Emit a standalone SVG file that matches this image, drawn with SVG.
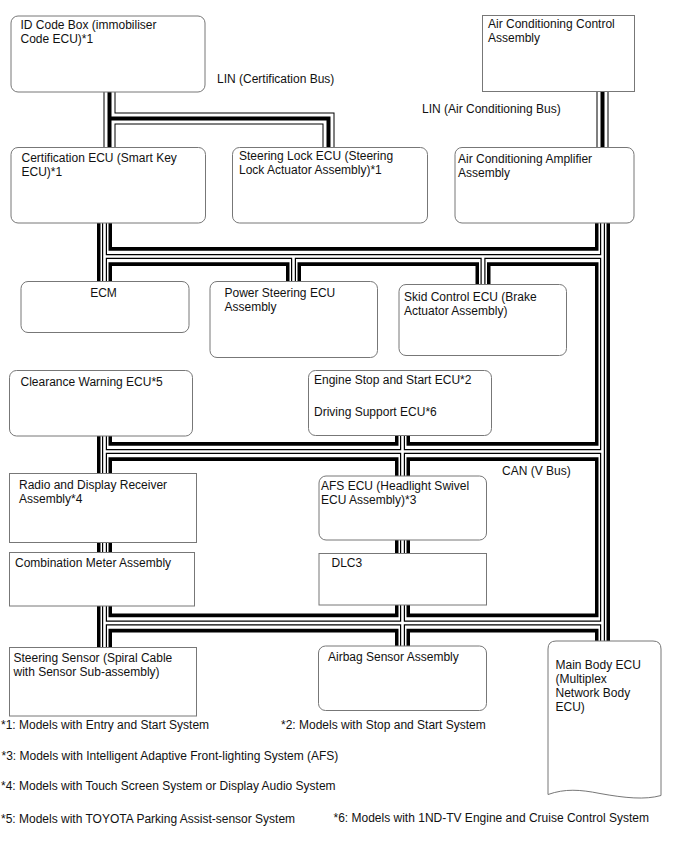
<svg xmlns="http://www.w3.org/2000/svg" xmlns:xlink="http://www.w3.org/1999/xlink" width="688" height="852" viewBox="0 0 688 852">
<style>
  text { font-family: "Liberation Sans", Arial, sans-serif; font-size: 12px; fill: #111; }
  .box { fill: #fff; stroke: #777; stroke-width: 1; }
  .l1 { stroke: #000; stroke-width: 12; }
  .l2 { stroke: #fff; stroke-width: 10; }
  .l3 { stroke: #000; stroke-width: 4; }
  .c1v { stroke: #000; stroke-width: 15; }
  .c1h { stroke: #000; stroke-width: 19; }
  .c2v { stroke: #fff; stroke-width: 8; }
  .c2h { stroke: #fff; stroke-width: 11.5; }
  .c3 { stroke: #000; stroke-width: 5; }
  .c4 { stroke: #fff; stroke-width: 2.6; }
</style>
<defs>
  <path id="lin-cert" d="M109.5,85 V156 M109.5,118.5 H328.5 V156"/>
  <path id="lin-ac" d="M602.5,85 V156"/>
  <path id="can-v" d="M104.5,215 V290 M104.5,430 V655 M602.5,215 V650 M402.5,430 V655 M293.5,256.5 V290 M483,256.5 V292"/>
  <path id="can-h" d="M104.5,256.5 H602.5 M104.5,451.5 H602.5 M104.5,623 H602.5"/>
</defs>
<rect width="688" height="852" fill="#fff"/>
<g id="connectors" fill="none" stroke-linecap="butt" stroke-linejoin="miter">
  <use href="#lin-cert" class="l1"/>
  <use href="#lin-ac" class="l1"/>
  <use href="#lin-cert" class="l2"/>
  <use href="#lin-ac" class="l2"/>
  <use href="#lin-cert" class="l3"/>
  <use href="#lin-ac" class="l3"/>
  <use href="#can-v" class="c1v"/>
  <use href="#can-h" class="c1h"/>
  <use href="#can-v" class="c2v"/>
  <use href="#can-h" class="c2h"/>
  <use href="#can-v" class="c3"/>
  <use href="#can-h" class="c3"/>
  <use href="#can-v" class="c4"/>
  <use href="#can-h" class="c4"/>
</g>
<g id="labels">
  <text x="217" y="83">LIN (Certification Bus)</text>
  <text x="422" y="112.5">LIN (Air Conditioning Bus)</text>
  <text x="502" y="475">CAN (V Bus)</text>
</g>
<g id="id-code-box">
  <rect class="box" x="11" y="16" width="194" height="76" rx="7"/>
  <text x="20.5" y="28.5">ID Code Box (immobiliser</text>
  <text x="20.5" y="42.5">Code ECU)*1</text>
</g>
<g id="ac-control">
  <rect class="box" x="482.5" y="15.5" width="152" height="76"/>
  <text x="488" y="28">Air Conditioning Control</text>
  <text x="488" y="42">Assembly</text>
</g>
<g id="certification-ecu">
  <rect class="box" x="11" y="147.5" width="194.5" height="75.5" rx="7"/>
  <text x="21.5" y="161.5">Certification ECU (Smart Key</text>
  <text x="21.5" y="175.5">ECU)*1</text>
</g>
<g id="steering-lock-ecu">
  <rect class="box" x="232.5" y="147.5" width="195" height="75.5" rx="7"/>
  <text x="239" y="160">Steering Lock ECU (Steering</text>
  <text x="239" y="174">Lock Actuator Assembly)*1</text>
</g>
<g id="ac-amplifier">
  <rect class="box" x="455" y="147.5" width="179" height="75.5" rx="7"/>
  <text x="458" y="163">Air Conditioning Amplifier</text>
  <text x="458" y="177">Assembly</text>
</g>
<g id="ecm">
  <rect class="box" x="21" y="281.5" width="168" height="51" rx="7"/>
  <text x="103.5" y="297" text-anchor="middle">ECM</text>
</g>
<g id="power-steering-ecu">
  <rect class="box" x="210" y="281.5" width="167.5" height="76" rx="7"/>
  <text x="224.5" y="296.5">Power Steering ECU</text>
  <text x="224.5" y="310.5">Assembly</text>
</g>
<g id="skid-control-ecu">
  <rect class="box" x="399" y="284.5" width="167.5" height="71" rx="7"/>
  <text x="404" y="300.5">Skid Control ECU (Brake</text>
  <text x="404" y="314.5">Actuator Assembly)</text>
</g>
<g id="clearance-warning-ecu">
  <rect class="box" x="9.5" y="370.5" width="183" height="65.5" rx="7"/>
  <text x="20.5" y="386">Clearance Warning ECU*5</text>
</g>
<g id="engine-stop-start-ecu">
  <rect class="box" x="308.5" y="370.5" width="183" height="65" rx="7"/>
  <text x="314" y="383.5">Engine Stop and Start ECU*2</text>
  <text x="314" y="416">Driving Support ECU*6</text>
</g>
<g id="radio-display-receiver">
  <rect class="box" x="9.5" y="473.5" width="187" height="69"/>
  <text x="19" y="488.5">Radio and Display Receiver</text>
  <text x="19" y="502.5">Assembly*4</text>
</g>
<g id="afs-ecu">
  <rect class="box" x="319" y="476" width="167.5" height="64" rx="7"/>
  <text x="321" y="489.5">AFS ECU (Headlight Swivel</text>
  <text x="321" y="503.5">ECU Assembly)*3</text>
</g>
<g id="combination-meter">
  <rect class="box" x="9.5" y="552.5" width="185" height="53.5"/>
  <text x="15" y="566.5">Combination Meter Assembly</text>
</g>
<g id="dlc3">
  <rect class="box" x="319" y="553.5" width="167.5" height="51.5"/>
  <text x="331.5" y="566.5">DLC3</text>
</g>
<g id="steering-sensor">
  <rect class="box" x="9.5" y="647.5" width="187" height="68.5"/>
  <text x="13.5" y="661.5">Steering Sensor (Spiral Cable</text>
  <text x="13.5" y="675.5">with Sensor Sub-assembly)</text>
</g>
<g id="airbag-sensor">
  <rect class="box" x="318.5" y="646" width="168" height="64.5" rx="7"/>
  <text x="328" y="661">Airbag Sensor Assembly</text>
</g>
<g id="main-body-ecu">
  <path class="box" d="M548,649 Q548,641 556,641 L653,641 Q661,641 661,649 L661,795.5 C645,800 625,798 600,793.5 C580,789.5 565,788.5 548,794.5 Z"/>
  <text x="555.5" y="669">Main Body ECU</text>
  <text x="555.5" y="683">(Multiplex</text>
  <text x="555.5" y="697">Network Body</text>
  <text x="555.5" y="711">ECU)</text>
</g>
<g id="footnotes">
  <text x="1" y="729">*1: Models with Entry and Start System</text>
  <text x="281" y="728.5">*2: Models with Stop and Start System</text>
  <text x="1.5" y="760">*3: Models with Intelligent Adaptive Front-lighting System (AFS)</text>
  <text x="1" y="790">*4: Models with Touch Screen System or Display Audio System</text>
  <text x="1" y="823">*5: Models with TOYOTA Parking Assist-sensor System</text>
  <text x="333.5" y="822">*6: Models with 1ND-TV Engine and Cruise Control System</text>
</g>
</svg>
